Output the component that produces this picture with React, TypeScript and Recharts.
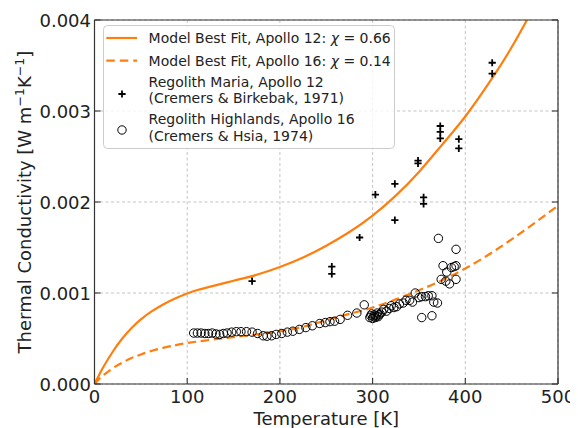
import React from 'react';
import { ComposedChart, Line, Scatter, XAxis, YAxis, CartesianGrid, Legend } from 'recharts';

// ---- data ----
const xTicks = [0, 100, 200, 300, 400, 500];
const xTickLabels = ['0', '100', '200', '300', '400', '500'];
const yTicks = [0, 0.001, 0.002, 0.003, 0.004];
const yTickLabels = ['0.000', '0.001', '0.002', '0.003', '0.004'];

// Model best fit, Apollo 12 (solid)
const fit12T = [0, 5, 10, 20, 30, 40, 50, 62, 75, 87, 100, 112, 125, 150, 175, 200, 225, 250, 275, 300, 325, 350, 375, 400, 425, 450, 475];
const fit12K = [0, 0.0001, 0.000195, 0.00036, 0.0005, 0.000615, 0.00071, 0.0008, 0.00088, 0.00094, 0.000995, 0.001035, 0.00107, 0.001135, 0.0012, 0.001285, 0.00139, 0.00152, 0.00167, 0.00185, 0.00207, 0.00233, 0.00263, 0.00294, 0.0033, 0.0037, 0.00416];

// Model best fit, Apollo 16 (dashed)
const fit16T = [0, 5, 10, 20, 30, 40, 50, 62, 75, 87, 100, 125, 150, 175, 200, 225, 250, 275, 300, 325, 350, 375, 400, 425, 450, 475, 500];
const fit16K = [0, 0.000055, 0.0001, 0.000175, 0.000235, 0.000285, 0.000325, 0.000365, 0.0004, 0.000425, 0.00045, 0.000485, 0.000515, 0.000545, 0.00058, 0.00063, 0.0007, 0.00077, 0.00084, 0.00093, 0.00103, 0.00114, 0.00127, 0.00142, 0.00159, 0.00177, 0.00196];

// Regolith Maria, Apollo 12 (Cremers & Birkebak, 1971)
const mariaT = [170, 256, 256, 286, 303, 324, 324, 349, 349, 355, 355, 373, 373, 373, 393, 393, 429, 429];
const mariaK = [0.00113, 0.00129, 0.00121, 0.00161, 0.00208, 0.0022, 0.0018, 0.002455, 0.002425, 0.00205, 0.00198, 0.002835, 0.00277, 0.0027, 0.00269, 0.00259, 0.00353, 0.00341];

// Regolith Highlands, Apollo 16 (Cremers & Hsia, 1974)
const highT = [107, 111, 115, 119, 123, 127, 131, 135, 139, 143, 148, 153, 158, 164, 170, 176, 182, 186, 191, 196, 202, 208, 214, 221, 228, 235, 243, 249, 254, 259, 265, 273, 283, 291,
  297, 298, 299, 300, 301, 302, 303, 304, 305, 306, 307, 308, 310, 312, 315, 318, 320, 323, 326, 329, 333, 336, 340, 343, 346, 350, 353, 357, 360, 364, 366,
  353, 364, 371, 376, 380, 385, 388, 390, 390, 374, 379, 383, 390, 370];
const highK = [0.00056, 0.00056, 0.00056, 0.000555, 0.000555, 0.00056, 0.00055, 0.000545, 0.000555, 0.00056, 0.00057, 0.000575, 0.000575, 0.000575, 0.00057, 0.000555, 0.00053, 0.000525, 0.00053, 0.000545, 0.000555, 0.00057, 0.00058, 0.0006, 0.00062, 0.00064, 0.000665, 0.000675, 0.000685, 0.00069, 0.00071, 0.000755, 0.00078, 0.00087,
  0.00073, 0.00075, 0.00077, 0.00072, 0.00074, 0.00076, 0.00073, 0.00075, 0.00078, 0.00074, 0.00076, 0.00077, 0.00079, 0.00082, 0.0008, 0.00083, 0.00086, 0.00084, 0.00085, 0.00088, 0.00089, 0.00092, 0.00092, 0.0009, 0.001, 0.00095, 0.00096, 0.00096, 0.00097, 0.00097, 0.0009,
  0.00073, 0.00075, 0.0016, 0.0013, 0.00123, 0.00128, 0.00129, 0.0013, 0.00148, 0.00115, 0.00113, 0.0011, 0.00115, 0.00089];

const fit12 = fit12T.map((t, i) => ({ t, k: fit12K[i] }));
const fit16 = fit16T.map((t, i) => ({ t, k: fit16K[i] }));
const maria = mariaT.map((t, i) => ({ t, k: mariaK[i] }));
const high = highT.map((t, i) => ({ t, k: highK[i] }));

// ---- styles ----
const FONT = '"DejaVu Sans", sans-serif';
const TEXT = '#222';
const SPINE = '#333';
const ORANGE = '#ff7f0e';
const TICK_LEN = 6;

const BottomTick = (props: any) => {
  const { x, y, index } = props;
  return (
    <g>
      <line x1={x} x2={x} y1={y} y2={y - TICK_LEN} stroke={SPINE} strokeWidth={1.1} />
      <text x={x} y={y + 19} textAnchor="middle" fontSize={18} fill={TEXT} fontFamily={FONT}>{xTickLabels[index]}</text>
    </g>
  );
};
const TopTick = (props: any) => {
  const { x, y } = props;
  return <line x1={x} x2={x} y1={y} y2={y + TICK_LEN} stroke={SPINE} strokeWidth={1.1} />;
};
const LeftTick = (props: any) => {
  const { x, y, index } = props;
  return (
    <g>
      <line x1={x} x2={x + TICK_LEN} y1={y} y2={y} stroke={SPINE} strokeWidth={1.1} />
      <text x={x - 3.5} y={y + 6.5} textAnchor="end" fontSize={18} fill={TEXT} fontFamily={FONT}>{yTickLabels[index]}</text>
    </g>
  );
};
const RightTick = (props: any) => {
  const { x, y } = props;
  return <line x1={x} x2={x - TICK_LEN} y1={y} y2={y} stroke={SPINE} strokeWidth={1.1} />;
};

const XLabel = () => (
  <text x={318.25} y={416.8} textAnchor="middle" fontSize={18} fill={TEXT} fontFamily={FONT}>Temperature [K]</text>
);
const YLabel = () => (
  <text transform="translate(22.5,194) rotate(-90)" textAnchor="middle" fontSize={18} fill={TEXT} fontFamily={FONT}>
    Thermal Conductivity [W m<tspan dy={-7} fontSize={12.6}>−1</tspan><tspan dy={7}>K</tspan><tspan dy={-7} fontSize={12.6}>−1</tspan><tspan dy={7}>]</tspan>
  </text>
);

const Plus = (props: any) => {
  const { cx, cy } = props;
  if (cx == null || cy == null) return null;
  const h = 3.6;
  return <path d={`M${cx - h},${cy}H${cx + h}M${cx},${cy - h}V${cy + h}`} stroke="#000" strokeWidth={1.8} fill="none" />;
};
const Ring = (props: any) => {
  const { cx, cy } = props;
  if (cx == null || cy == null) return null;
  return <circle cx={cx} cy={cy} r={4.2} stroke="#000" strokeWidth={1} fill="none" />;
};

const LegendBox = () => (
  <svg width={292} height={124} style={{ display: 'block' }}>
    <rect x={0.5} y={0.5} width={291} height={123} rx={4} fill="#fff" fillOpacity={0.8} stroke="#cccccc" strokeWidth={1} />
    <g fontFamily={FONT} fontSize={14} fill={TEXT}>
      <line x1={3.3} x2={34} y1={13} y2={13} stroke={ORANGE} strokeWidth={2.2} />
      <text x={45.6} y={18}>Model Best Fit, Apollo 12: <tspan fontStyle="italic">χ</tspan> = 0.66</text>
      <line x1={3.3} x2={34} y1={35.7} y2={35.7} stroke={ORANGE} strokeWidth={2.2} strokeDasharray="8.5 5" />
      <text x={45.6} y={40.7}>Model Best Fit, Apollo 16: <tspan fontStyle="italic">χ</tspan> = 0.14</text>
      <Plus cx={19} cy={69} />
      <text x={45.6} y={61.7}>Regolith Maria, Apollo 12</text>
      <text x={45.6} y={78.3}>(Cremers &amp; Birkebak, 1971)</text>
      <Ring cx={19} cy={105} />
      <text x={45.6} y={99}>Regolith Highlands, Apollo 16</text>
      <text x={45.6} y={115.6}>(Cremers &amp; Hsia, 1974)</text>
    </g>
  </svg>
);

export default function App() {
  return (
    <ComposedChart width={570} height={420} margin={{ top: 0, right: 0, bottom: 0, left: 0 }}>
      <CartesianGrid stroke="#bdbdbd" strokeWidth={0.9} strokeDasharray="3 2.5" />
      <XAxis
        dataKey="t"
        type="number"
        domain={[0, 500]}
        ticks={xTicks}
        interval={0}
        allowDataOverflow
        height={44}
        tickSize={0}
        tickMargin={0}
        tickLine={false}
        tick={<BottomTick />}
        axisLine={{ stroke: SPINE, strokeWidth: 1.2 }}
        label={<XLabel />}
      />
      <XAxis
        xAxisId="top"
        orientation="top"
        type="number"
        domain={[0, 500]}
        ticks={xTicks}
        interval={0}
        allowDataOverflow
        height={12}
        tickSize={0}
        tickMargin={0}
        tickLine={false}
        tick={<TopTick />}
        axisLine={{ stroke: SPINE, strokeWidth: 1.2 }}
      />
      <YAxis
        type="number"
        domain={[0, 0.004]}
        ticks={yTicks}
        interval={0}
        allowDataOverflow
        width={86.5}
        tickSize={0}
        tickMargin={0}
        tickLine={false}
        tick={<LeftTick />}
        axisLine={{ stroke: SPINE, strokeWidth: 1.2 }}
        label={<YLabel />}
      />
      <YAxis
        yAxisId="right"
        orientation="right"
        type="number"
        domain={[0, 0.004]}
        ticks={yTicks}
        interval={0}
        allowDataOverflow
        width={20}
        tickSize={0}
        tickMargin={0}
        tickLine={false}
        tick={<RightTick />}
        axisLine={{ stroke: SPINE, strokeWidth: 1.2 }}
      />
      <Line data={fit12} dataKey="k" type="natural" stroke={ORANGE} strokeWidth={2.2} dot={false} activeDot={false} isAnimationActive={false} />
      <Line data={fit16} dataKey="k" type="natural" stroke={ORANGE} strokeWidth={2.2} strokeDasharray="8.5 4.5" dot={false} activeDot={false} isAnimationActive={false} />
      <Scatter data={maria} dataKey="k" shape={<Plus />} isAnimationActive={false} />
      <Scatter data={high} dataKey="k" shape={<Ring />} isAnimationActive={false} />
      <Legend
        layout="vertical"
        align="center"
        verticalAlign="middle"
        content={<LegendBox />}
        wrapperStyle={{ left: 94.7, top: 17, width: 292, height: 124 }}
      />
    </ComposedChart>
  );
}
